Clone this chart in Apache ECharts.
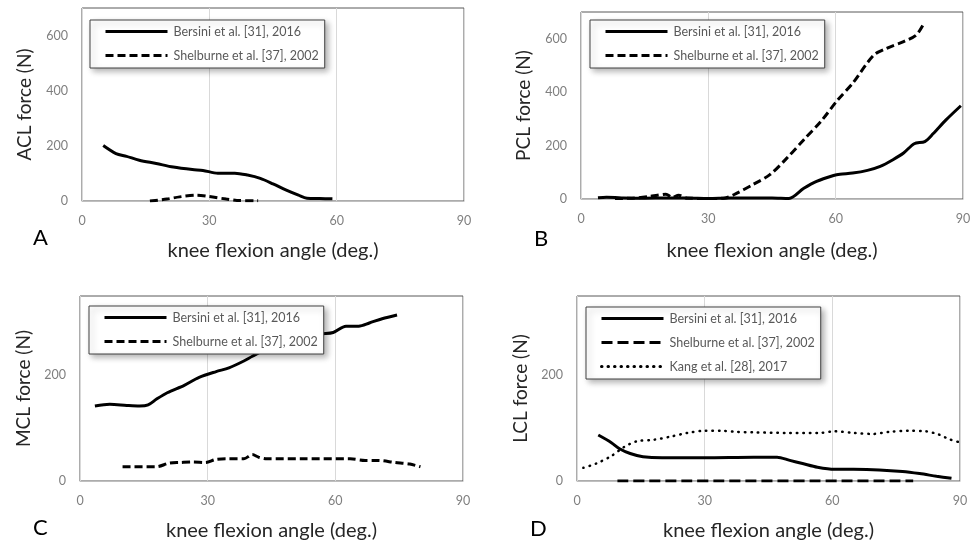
<!DOCTYPE html>
<html>
<head>
<meta charset="utf-8">
<script src="https://cdn.jsdelivr.net/npm/echarts@6/dist/echarts.min.js"></script>
<style>
  body { margin: 0; background: #fff; }
  .panel { position: absolute; height: 273px; }
</style>
</head>
<body>
<div id="panelA" class="panel" style="left:0;top:0;width:487px;"></div>
<div id="panelB" class="panel" style="left:487px;top:0;width:490px;"></div>
<div id="panelC" class="panel" style="left:0;top:273px;width:487px;"></div>
<div id="panelD" class="panel" style="left:487px;top:273px;width:490px;"></div>
<script>
// 图例名称
const nameBersini = 'Bersini et al. [31], 2016';
const nameShelburne = 'Shelburne et al. [37], 2002';
const nameKang = 'Kang et al. [28], 2017';

// x 轴刻度
const angleTicks = [0, 30, 60, 90];

// A - ACL
const aclBersiniAngle = [5, 8, 10.5, 13.5, 17.5, 21.5, 26, 28.5, 32, 36, 39, 42, 45, 48, 51, 53, 56, 59];
const aclBersiniForce = [201, 172, 162, 148, 136, 123, 114, 111, 101, 101, 94, 82, 62, 40, 21, 10, 9, 8];
const aclShelburneAngle = [16, 20, 23, 27, 30, 34, 36.5, 41.5];
const aclShelburneForce = [0, 7, 15, 21, 16, 7, 2, 1];

// B - PCL
const pclBersiniAngle = [4, 6, 8, 10, 15, 20, 25, 30, 35, 40, 45, 49, 52.5, 55.5, 59.5, 61, 64, 67.5, 70.5, 73.5, 76, 78.5, 81, 83, 86, 89.5];
const pclBersiniForce = [5, 7, 6, 4, 3, 4, 4, 2, 4, 4, 4, 2, 40, 66, 88, 93, 97, 107, 122, 147, 172, 207, 215, 245, 296, 349];
const pclShelburneAngle = [8, 12, 16, 18, 20, 21.5, 23, 25, 30, 34, 36, 40.5, 44.5, 48.5, 52.5, 56.5, 60.5, 64, 69, 72, 76, 79, 80.7];
const pclShelburneForce = [2, 3, 9, 14, 18, 6, 14, 3, 2, 4, 16, 54, 91, 153, 222, 290, 371, 433, 539, 564, 589, 614, 655];

// C - MCL
const mclBersiniAngle = [3.5, 7, 11, 14, 16, 18, 20.5, 24.5, 28, 32, 35, 38.5, 40.5, 44, 48, 52, 56.5, 59.5, 62.5, 65.5, 68, 71, 74.5];
const mclBersiniForce = [142, 145, 143, 142, 144, 155, 167, 181, 196, 207, 214, 227, 236, 250, 260, 270, 278, 281, 293, 293, 299, 307, 314];
const mclShelburneAngle = [10, 18, 21, 23.5, 26.5, 29.5, 32, 35, 38.5, 40.5, 42, 44, 52, 63.5, 67, 70, 74, 77.5, 80];
const mclShelburneForce = [27, 27, 34, 35, 36, 35, 41, 42, 42, 50, 45, 42, 42, 42, 39, 39, 35, 32, 27];

// D - LCL
const lclBersiniAngle = [5, 8, 10, 12.5, 15.5, 20, 30, 41.5, 47, 50, 53, 56.5, 60.5, 65, 71, 76.5, 80.5, 84.5, 88];
const lclBersiniForce = [87, 73, 61, 52, 46, 44, 44, 45, 45, 39, 33, 26, 22, 22, 21, 18, 14, 9, 5];
const lclShelburneAngle = [9.5, 79];
const lclShelburneForce = [0, 0];
const lclKangAngle = [1.5, 4.5, 8, 11, 14, 18, 22, 26, 30, 34, 37.5, 41.5, 49, 57, 60.5, 65, 69.5, 73.5, 78, 82, 85, 87.5, 90];
const lclKangForce = [25, 33, 47, 64, 75, 78, 84, 91, 95, 95, 93, 92, 91, 91, 94, 91, 89, 93, 95, 94, 88, 79, 73];

const FONT = 'Lato';

function zip(xs, ys) {
  return xs.map((x, i) => [x, ys[i]]);
}

function lineSeries(name, xs, ys, dash, width, cap) {
  return {
    name: name,
    type: 'line',
    data: zip(xs, ys),
    symbol: 'none',
    smooth: 0.3,
    silent: true,
    itemStyle: { color: '#000' },
    lineStyle: { color: '#000', width: width || 3, type: dash || 'solid', cap: cap || 'butt' }
  };
}

// 绘制一个面板
function drawPanel(domId, p) {
  const myChart = echarts.init(document.getElementById(domId));
  const option = {
    animation: false,
    textStyle: { fontFamily: FONT },
    title: {
      text: p.letter,
      left: p.letterLeft,
      top: p.letterTop,
      textStyle: { fontFamily: FONT, fontSize: 22, fontWeight: 'normal', color: '#000' }
    },
    grid: {
      left: p.grid[0], top: p.grid[1], width: p.grid[2], height: p.grid[3],
      show: true,
      borderColor: '#595959',
      borderWidth: 1
    },
    legend: {
      orient: 'vertical',
      left: p.legendLeft,
      top: p.legendTop,
      itemWidth: 62,
      itemHeight: 14,
      itemGap: 11,
      padding: [5, 6, 6, 14],
      backgroundColor: '#fff',
      borderColor: '#404040',
      borderWidth: 1,
      shadowBlur: 6,
      shadowColor: 'rgba(0,0,0,0.3)',
      shadowOffsetX: 3,
      shadowOffsetY: 3,
      itemStyle: { opacity: 0 },
      lineStyle: { width: 3 },
      textStyle: { fontFamily: FONT, fontSize: 12.5, color: '#595959', padding: [0, 0, 0, 1] },
      selectedMode: false
    },
    xAxis: {
      type: 'value',
      min: angleTicks[0],
      max: angleTicks[angleTicks.length - 1],
      interval: angleTicks[1] - angleTicks[0],
      name: 'knee flexion angle (deg.)',
      nameLocation: 'middle',
      nameGap: p.xNameGap,
      nameTextStyle: { fontFamily: FONT, fontSize: 20, color: '#262626' },
      axisLine: { show: true, lineStyle: { color: '#bfbfbf', width: 1 } },
      axisTick: { show: false },
      axisLabel: { fontFamily: FONT, fontSize: 12.5, color: '#7f7f7f', margin: 13 },
      splitLine: { show: true, lineStyle: { color: '#d9d9d9', width: 1 } }
    },
    yAxis: {
      type: 'value',
      min: 0,
      max: p.yMax,
      interval: 200,
      name: p.yName,
      nameLocation: 'middle',
      nameGap: p.yNameGap,
      nameTextStyle: { fontFamily: FONT, fontSize: 19, color: '#262626' },
      axisLine: { show: false },
      axisTick: { show: false },
      axisLabel: { fontFamily: FONT, fontSize: 12.5, color: '#7f7f7f', margin: 14, showMaxLabel: false },
      splitLine: { show: false }
    },
    series: p.series
  };
  option && myChart.setOption(option);
}

drawPanel('panelA', {
  letter: 'A', letterLeft: 28, letterTop: 222,
  grid: [82, 8, 382, 193],
  legendLeft: 90, legendTop: 20,
  xNameGap: 40, yName: 'ACL force (N)', yNameGap: 48, yMax: 700,
  series: [
    lineSeries(nameBersini, aclBersiniAngle, aclBersiniForce),
    lineSeries(nameShelburne, aclShelburneAngle, aclShelburneForce, [8, 4])
  ]
});

drawPanel('panelB', {
  letter: 'B', letterLeft: 42, letterTop: 223,
  grid: [94, 12, 382, 187],
  legendLeft: 103, legendTop: 20,
  xNameGap: 42, yName: 'PCL force (N)', yNameGap: 48, yMax: 700,
  series: [
    lineSeries(nameBersini, pclBersiniAngle, pclBersiniForce),
    lineSeries(nameShelburne, pclShelburneAngle, pclShelburneForce, [8, 4])
  ]
});

drawPanel('panelC', {
  letter: 'C', letterLeft: 28, letterTop: 239,
  grid: [80, 23, 383, 193],
  legendLeft: 89, legendTop: 33,
  xNameGap: 40, yName: 'MCL force (N)', yNameGap: 47, yMax: 350,
  series: [
    lineSeries(nameBersini, mclBersiniAngle, mclBersiniForce),
    lineSeries(nameShelburne, mclShelburneAngle, mclShelburneForce, [8, 4])
  ]
});

drawPanel('panelD', {
  letter: 'D', letterLeft: 38, letterTop: 240,
  grid: [90, 23, 383, 194],
  legendLeft: 99, legendTop: 34,
  xNameGap: 40, yName: 'LCL force (N)', yNameGap: 47, yMax: 350,
  series: [
    lineSeries(nameBersini, lclBersiniAngle, lclBersiniForce),
    lineSeries(nameShelburne, lclShelburneAngle, lclShelburneForce, [11, 5]),
    lineSeries(nameKang, lclKangAngle, lclKangForce, [0.5, 6], 2.5, 'round')
  ]
});
</script>
</body>
</html>
